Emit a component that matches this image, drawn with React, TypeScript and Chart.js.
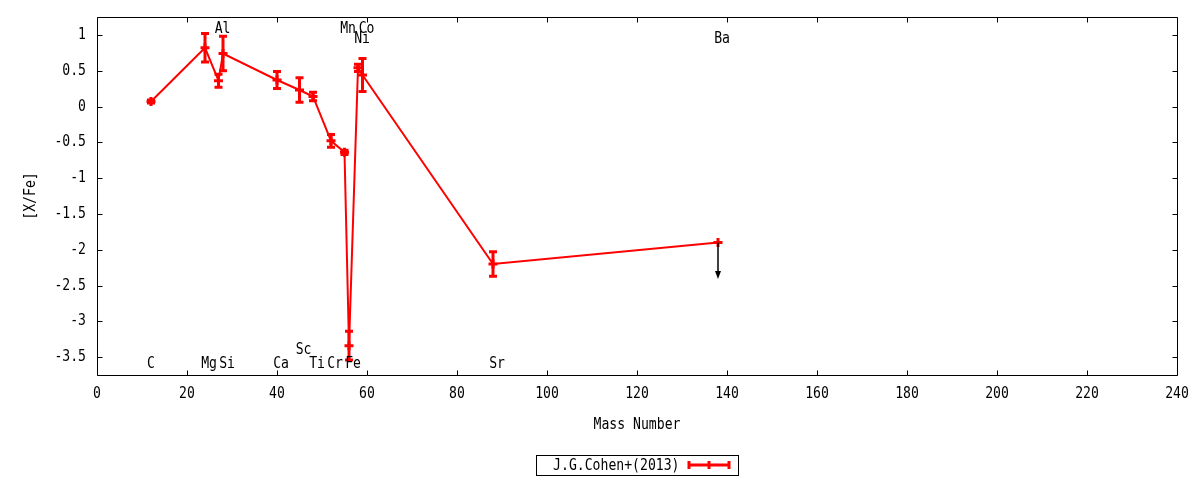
import { useEffect, useRef } from 'react';
import { Chart, registerables } from 'chart.js';

Chart.register(...registerables);

// ---- data ----
const elements = ['C', 'Mg', 'Al', 'Si', 'Ca', 'Sc', 'Ti', 'Cr', 'Mn', 'Fe', 'Ni', 'Co', 'Sr', 'Ba'];
const massNumbers = [12, 24, 27, 28, 40, 45, 48, 52, 55, 56, 58, 59, 88, 138];
const xFe = [0.07, 0.82, 0.36, 0.74, 0.37, 0.23, 0.14, -0.48, -0.64, -3.34, 0.54, 0.44, -2.2, -1.9];
const xFeErr = [0.02, 0.2, 0.09, 0.24, 0.12, 0.17, 0.06, 0.09, 0.03, 0.2, 0.05, 0.23, 0.17, 0];
const upperLimitTo: (number | null)[] = [null, null, null, null, null, null, null, null, null, null, null, null, null, -2.41];
const labelX = [12, 24.9, 27.9, 28.9, 40.9, 45.9, 48.9, 52.9, 55.8, 56.9, 58.9, 59.9, 88.9, 138.9];
const labelY = [-3.6, -3.6, 1.09, -3.6, -3.6, -3.4, -3.6, -3.6, 1.09, -3.6, 0.95, 1.09, -3.6, 0.95];
const xTicks = [0, 20, 40, 60, 80, 100, 120, 140, 160, 180, 200, 220, 240];
const yTicks = [1, 0.5, 0, -0.5, -1, -1.5, -2, -2.5, -3, -3.5];
const seriesLabel = 'J.G.Cohen+(2013)';
const xTitle = 'Mass Number';
const yTitle = '[X/Fe]';

const RED = '#ff0000';
const FONT_FAMILY = '"DejaVu Sans Mono", monospace';
const FONT = `16px ${FONT_FAMILY}`;
const TEXT_SX = 0.82;

function drawText(ctx: CanvasRenderingContext2D, text: string, x: number, y: number, align: CanvasTextAlign, rot = 0) {
  ctx.save();
  ctx.translate(x, y);
  if (rot) ctx.rotate(rot);
  ctx.scale(TEXT_SX, 1);
  ctx.font = FONT;
  ctx.fillStyle = '#000';
  ctx.textAlign = align;
  ctx.textBaseline = 'middle';
  ctx.fillText(text, 0, 0);
  ctx.restore();
}

const errorBarPlugin = {
  id: 'errorBars',
  afterDatasetsDraw(chart: any) {
    const { ctx, scales } = chart;
    const xs = scales.x;
    const ys = scales.y;
    ctx.save();
    ctx.strokeStyle = RED;
    ctx.lineWidth = 3;
    ctx.lineCap = 'butt';
    massNumbers.forEach((m, i) => {
      const err = xFeErr[i];
      if (!err) return;
      const px = xs.getPixelForValue(m);
      const t = ys.getPixelForValue(xFe[i] + err);
      const b = ys.getPixelForValue(xFe[i] - err);
      const cap = 4;
      ctx.beginPath();
      ctx.moveTo(px, t);
      ctx.lineTo(px, b);
      ctx.moveTo(px - cap, t);
      ctx.lineTo(px + cap, t);
      ctx.moveTo(px - cap, b);
      ctx.lineTo(px + cap, b);
      ctx.stroke();
    });
    ctx.strokeStyle = '#000';
    ctx.fillStyle = '#000';
    ctx.lineWidth = 1.5;
    massNumbers.forEach((m, i) => {
      const to = upperLimitTo[i];
      if (to === null) return;
      const px = xs.getPixelForValue(m);
      const y0 = ys.getPixelForValue(xFe[i]);
      const y1 = ys.getPixelForValue(to);
      ctx.beginPath();
      ctx.moveTo(px, y0);
      ctx.lineTo(px, y1 - 6);
      ctx.stroke();
      ctx.beginPath();
      ctx.moveTo(px, y1);
      ctx.lineTo(px - 3, y1 - 8);
      ctx.lineTo(px + 3, y1 - 8);
      ctx.closePath();
      ctx.fill();
    });
    ctx.restore();
  },
};

const framePlugin = {
  id: 'frame',
  afterDraw(chart: any) {
    const { ctx, chartArea: a, scales } = chart;
    const xs = scales.x;
    const ys = scales.y;
    ctx.save();
    ctx.strokeStyle = '#000';
    ctx.lineWidth = 1;
    const L = Math.round(a.left) + 0.5;
    const R = Math.round(a.right) + 0.5;
    const T = Math.round(a.top) + 0.5;
    const B = Math.round(a.bottom) + 0.5;
    ctx.beginPath();
    ctx.rect(L, T, R - L, B - T);
    const tl = 5;
    xs.ticks.forEach((t: any) => {
      const px = Math.round(xs.getPixelForValue(t.value)) + 0.5;
      ctx.moveTo(px, B);
      ctx.lineTo(px, B - tl);
      ctx.moveTo(px, T);
      ctx.lineTo(px, T + tl);
    });
    ys.ticks.forEach((t: any) => {
      const py = Math.round(ys.getPixelForValue(t.value)) + 0.5;
      ctx.moveTo(L, py);
      ctx.lineTo(L + tl, py);
      ctx.moveTo(R, py);
      ctx.lineTo(R - tl, py);
    });
    ctx.stroke();

    // tick labels from the library's scales
    xs.ticks.forEach((t: any) => {
      drawText(ctx, String(t.value), xs.getPixelForValue(t.value), a.bottom + 19, 'center');
    });
    ys.ticks.forEach((t: any) => {
      drawText(ctx, String(t.value), a.left - 11, ys.getPixelForValue(t.value), 'right');
    });

    // element labels
    elements.forEach((name, i) => {
      const px = xs.getPixelForValue(labelX[i]);
      const py = ys.getPixelForValue(labelY[i]);
      drawText(ctx, name, px, py, 'center');
    });

    // axis titles
    const cx = (a.left + a.right) / 2;
    const cy = (a.top + a.bottom) / 2;
    drawText(ctx, xTitle, cx, a.bottom + 50, 'center');
    drawText(ctx, yTitle, 31, cy, 'center', -Math.PI / 2);

    // legend
    const ds = chart.data.datasets[0];
    const bl = Math.round(cx - 101) + 0.5;
    const bt = 455.5;
    const bw = 202;
    const bh = 20;
    ctx.strokeStyle = '#000';
    ctx.lineWidth = 1;
    ctx.strokeRect(bl, bt, bw, bh);
    drawText(ctx, ds.label, bl + 143, bt + bh / 2, 'right');
    const ly = bt + bh / 2 - 0.5;
    const lx0 = bl + 151;
    const lx1 = bl + 194;
    ctx.strokeStyle = ds.borderColor;
    ctx.lineWidth = 3;
    ctx.beginPath();
    ctx.moveTo(lx0, ly);
    ctx.lineTo(lx1, ly);
    [lx0 + 1.5, (lx0 + lx1) / 2, lx1 - 1.5].forEach((x) => {
      ctx.moveTo(x, ly - 4);
      ctx.lineTo(x, ly + 4);
    });
    ctx.stroke();
    ctx.restore();
  },
};

export default function App() {
  const canvasRef = useRef<HTMLCanvasElement | null>(null);

  useEffect(() => {
    if (!canvasRef.current) return;
    const chart = new Chart(canvasRef.current, {
      type: 'scatter',
      data: {
        datasets: [
          {
            label: seriesLabel,
            data: massNumbers.map((m, i) => ({ x: m, y: xFe[i] })),
            showLine: true,
            borderColor: RED,
            backgroundColor: RED,
            borderWidth: 2,
            tension: 0,
            pointStyle: 'cross',
            pointRadius: 4.5,
            pointBorderWidth: 3,
            pointBorderColor: RED,
            pointHoverRadius: 4.5,
          } as any,
        ],
      },
      options: {
        animation: false,
        responsive: true,
        maintainAspectRatio: false,
        devicePixelRatio: 1,
        events: [],
        layout: { padding: { top: 17, right: 23, left: 0, bottom: 0 } },
        plugins: {
          legend: { display: false },
          tooltip: { enabled: false },
        },
        scales: {
          x: {
            type: 'linear',
            min: 0,
            max: 240,
            grid: { display: false, drawTicks: false },
            border: { display: false },
            afterBuildTicks: (scale: any) => {
              scale.ticks = xTicks.map((v) => ({ value: v }));
            },
            afterFit: (scale: any) => {
              scale.height = 105;
              scale.paddingLeft = 0;
              scale.paddingRight = 0;
            },
            ticks: { display: false, autoSkip: false, maxRotation: 0 },
          },
          y: {
            type: 'linear',
            min: -3.75,
            max: 1.25,
            grid: { display: false, drawTicks: false },
            border: { display: false },
            afterBuildTicks: (scale: any) => {
              scale.ticks = yTicks.map((v) => ({ value: v }));
            },
            afterFit: (scale: any) => {
              scale.width = 97;
              scale.paddingTop = 0;
              scale.paddingBottom = 0;
            },
            ticks: { display: false, autoSkip: false },
          },
        },
      },
      plugins: [errorBarPlugin, framePlugin],
    });
    return () => chart.destroy();
  }, []);

  return (
    <div style={{ position: 'fixed', left: 0, top: 0, width: 1200, height: 480, background: '#fff' }}>
      <canvas ref={canvasRef} />
    </div>
  );
}
